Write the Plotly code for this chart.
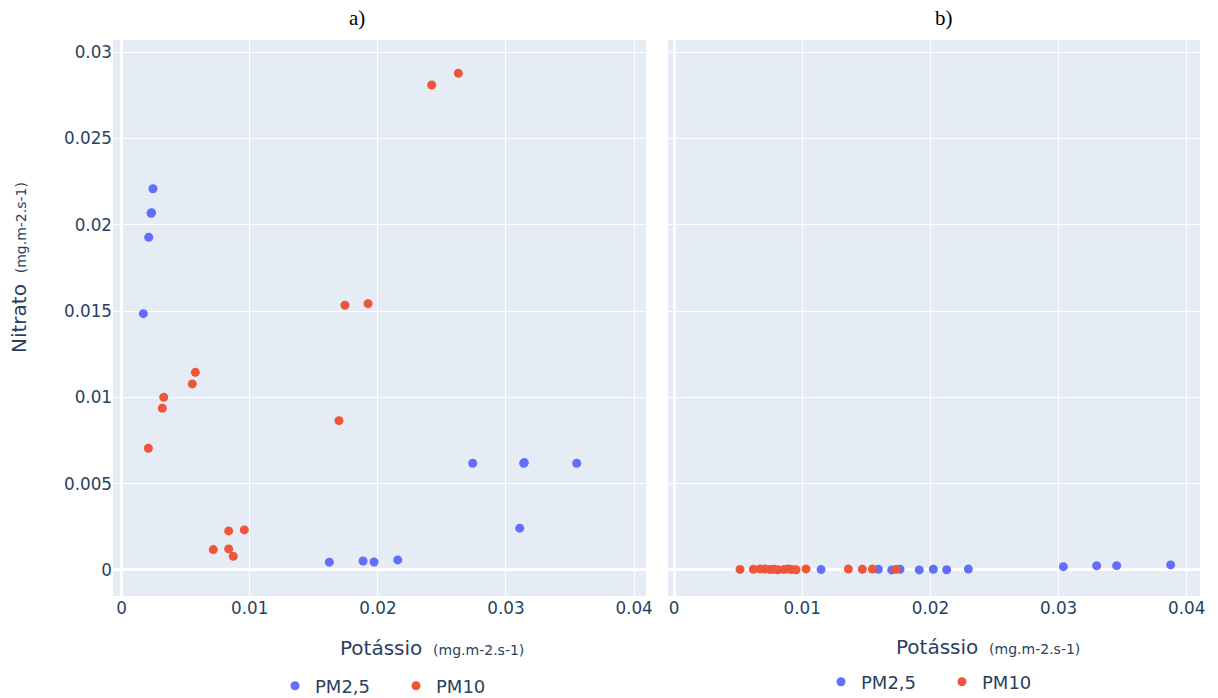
import plotly.graph_objects as go
from plotly.subplots import make_subplots

# ---- data ----
# Panel a)
a_pm25_x = [0.00244, 0.00229, 0.00233, 0.00211, 0.00169, 0.01621, 0.01884, 0.01970,
            0.02155, 0.02740, 0.03138, 0.03143, 0.03552, 0.03107]
a_pm25_y = [0.02209, 0.02067, 0.02070, 0.01928, 0.01485, 0.00045, 0.00052, 0.00046,
            0.00058, 0.00618, 0.00618, 0.00622, 0.00618, 0.00242]
a_pm10_x = [0.00208, 0.00317, 0.00328, 0.00551, 0.00575, 0.01696, 0.00715, 0.00835,
            0.00835, 0.00871, 0.00957, 0.01743, 0.01923, 0.02420, 0.02628]
a_pm10_y = [0.00705, 0.00937, 0.01001, 0.01078, 0.01145, 0.00865, 0.00118, 0.00226,
            0.00122, 0.00079, 0.00232, 0.01534, 0.01543, 0.02810, 0.02878]
# Panel b)
b_pm25_x = [0.01147, 0.01594, 0.01698, 0.01763, 0.01913, 0.02023, 0.02127, 0.02296,
            0.03037, 0.03297, 0.03453, 0.03874]
b_pm25_y = [0.00002, 0.00004, 0.00000, 0.00004, 0.00000, 0.00004, 0.00001, 0.00005,
            0.00019, 0.00024, 0.00025, 0.00029]
b_pm10_x = [0.00515, 0.00619, 0.00671, 0.00710, 0.00749, 0.00780, 0.00811, 0.00858,
            0.00892, 0.00918, 0.00952, 0.01030, 0.01360, 0.01469, 0.01547, 0.01732]
b_pm10_y = [0.00003, 0.00004, 0.00006, 0.00005, 0.00002, 0.00004, 0.00001, 0.00003,
            0.00005, 0.00002, 0.00001, 0.00006, 0.00005, 0.00004, 0.00005, 0.00003]

series_names = ["PM2,5", "PM10"]
panel_titles = ["a)", "b)"]
x_title = "Potássio"
y_title = "Nitrato"
unit = "(mg.m-2.s-1)"
x_ticks = [0, 0.01, 0.02, 0.03, 0.04]
y_ticks = [0, 0.005, 0.01, 0.015, 0.02, 0.025, 0.03]

BLUE = "#636efa"
RED = "#EF553B"
FONT = "DejaVu Sans, Verdana, sans-serif"
TXT = "#2a3f5f"

fig = make_subplots(rows=1, cols=2, shared_yaxes=False, horizontal_spacing=0.02)

fig.add_trace(go.Scatter(x=a_pm25_x, y=a_pm25_y, mode="markers", name=series_names[0],
                         marker=dict(color=BLUE, size=9), legend="legend"), row=1, col=1)
fig.add_trace(go.Scatter(x=a_pm10_x, y=a_pm10_y, mode="markers", name=series_names[1],
                         marker=dict(color=RED, size=9), legend="legend"), row=1, col=1)
fig.add_trace(go.Scatter(x=b_pm25_x, y=b_pm25_y, mode="markers", name=series_names[0],
                         marker=dict(color=BLUE, size=9), legend="legend2"), row=1, col=2)
fig.add_trace(go.Scatter(x=b_pm10_x, y=b_pm10_y, mode="markers", name=series_names[1],
                         marker=dict(color=RED, size=9), legend="legend2"), row=1, col=2)

W, H = 1218, 698
ml, mr, mt, mb = 113, 18, 40, 102
pw = W - ml - mr
ph = H - mt - mb

def px_x(p):
    return (p - ml) / pw

def px_y(p):
    return (H - mb - p) / ph

axis_common = dict(gridcolor="white", gridwidth=1.3, zeroline=True, zerolinecolor="white",
                   zerolinewidth=2.6, showline=False, ticks="",
                   tickfont=dict(family=FONT, size=16.8, color=TXT))

fig.update_xaxes(**axis_common, tickvals=x_ticks, ticktext=[f"{v:g}" for v in x_ticks])
fig.update_xaxes(range=[-0.00068, 0.04093], domain=[0, px_x(646)], row=1, col=1)
fig.update_xaxes(range=[-0.00047, 0.04103], domain=[px_x(668), 1], row=1, col=2)
fig.update_yaxes(**axis_common, tickvals=y_ticks, ticktext=[f"{v:g}" for v in y_ticks],
                 range=[-0.00151, 0.03071])
fig.update_yaxes(showticklabels=False, row=1, col=2)

legend_common = dict(orientation="h", xanchor="center", yanchor="middle",
                     font=dict(family=FONT, size=18, color=TXT),
                     bgcolor="rgba(0,0,0,0)", itemwidth=30,
                     entrywidth=76, entrywidthmode="pixels")

def ann(text, x, y, size, family=FONT, color=TXT, angle=0):
    return dict(text=text, x=px_x(x), y=px_y(y), xref="paper", yref="paper",
                xanchor="center", yanchor="middle", showarrow=False, textangle=angle,
                font=dict(family=family, size=size, color=color))

SERIF = "Liberation Serif, Times New Roman, serif"
title_txt = f"{x_title} <span style='font-size:14px'>&nbsp;{unit}</span>"
ytitle_txt = f"{y_title} <span style='font-size:14px'>&nbsp;{unit}</span>"

fig.update_layout(
    width=W, height=H,
    margin=dict(l=ml, r=mr, t=mt, b=mb, autoexpand=False),
    plot_bgcolor="#E5ECF6", paper_bgcolor="white",
    font=dict(family=FONT, color=TXT),
    legend=dict(**legend_common, x=px_x(396), y=px_y(686)),
    legend2=dict(**legend_common, x=px_x(942), y=px_y(682)),
    annotations=[
        ann(panel_titles[0], 357, 18, 21, SERIF, "black"),
        ann(panel_titles[1], 944, 18, 21, SERIF, "black"),
        ann(title_txt, 432, 648, 20),
        ann(title_txt, 988, 647, 20),
        ann(ytitle_txt, 19, 268, 20, angle=-90),
    ],
)

fig.write_html("out.html", config={"displayModeBar": False},
               post_script="document.body.style.margin='0';document.body.style.overflow='hidden';")
